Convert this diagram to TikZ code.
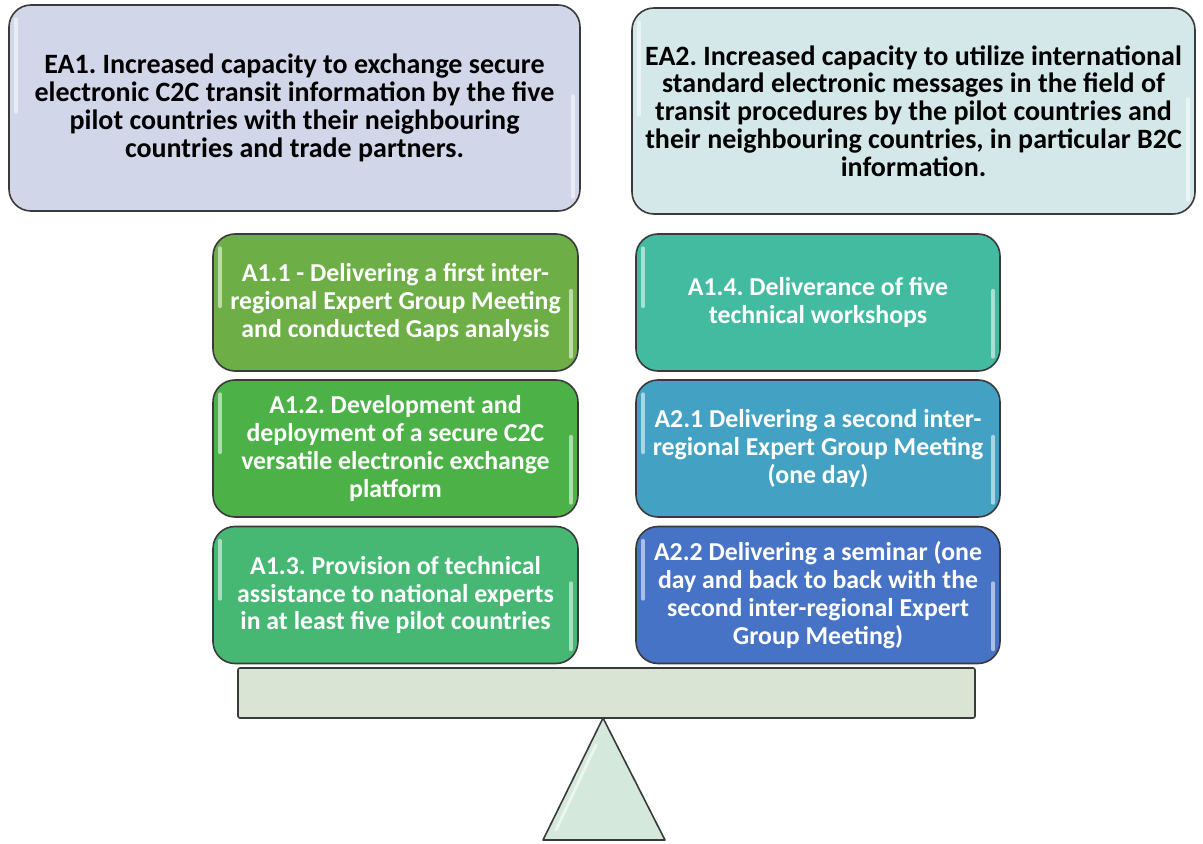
\documentclass[tikz,border=0pt]{standalone}
\usepackage{fontspec}
\setmainfont{Carlito}
\frenchspacing
\definecolor{eaone}{HTML}{D1D6E9}
\definecolor{eatwo}{HTML}{D4E8EA}
\definecolor{aoneone}{HTML}{6EAE46}
\definecolor{aonetwo}{HTML}{4CB248}
\definecolor{aonethree}{HTML}{46B874}
\definecolor{aonefour}{HTML}{43BBA0}
\definecolor{atwoone}{HTML}{43A2C3}
\definecolor{atwotwo}{HTML}{4673C6}
\definecolor{barcol}{HTML}{D9E4D4}
\definecolor{tricol}{HTML}{D4E8DB}
\definecolor{edge}{HTML}{3A3A3A}
\begin{document}
\begin{tikzpicture}[x=0.5pt,y=-0.5pt,
  gloss/.style={path picture={
    \draw[white,opacity=.55,line width=1.6pt,line cap=round]
      ([xshift=3.5pt,yshift=-7pt]path picture bounding box.north west) -- ([xshift=3.5pt,yshift=-2pt]path picture bounding box.west);
    \draw[white,opacity=.55,line width=1.6pt,line cap=round]
      ([xshift=-3.5pt,yshift=6pt]path picture bounding box.east) -- ([xshift=-3.5pt,yshift=7pt]path picture bounding box.south east);}},
  box/.style={draw=edge,line width=0.8pt,rounded corners=11pt,align=center,
    inner sep=0pt,gloss},
  eabox/.style={box,text=black,minimum height=103pt,font=\fontsize{14}{13.9}\selectfont\bfseries},
  actbox/.style={box,text=white,minimum height=68.5pt,font=\fontsize{12.9}{13.9}\selectfont\bfseries},
  actl/.style={actbox,minimum width=182.5pt},
  actr/.style={actbox,minimum width=182pt}]
\useasboundingbox (0,0) rectangle (1203,844);
\node[eabox,fill=eaone,minimum width=285.5pt] (ea1) at (294.5,108)
  {EA1. Increased capacity to exchange secure\\electronic C2C transit information by the five\\pilot countries with their neighbouring\\countries and trade partners.};
\node[eabox,fill=eatwo,minimum width=281.5pt] (ea2) at (913.5,111)
  {EA2. Increased capacity to utilize international\\standard electronic messages in the field of\\transit procedures by the pilot countries and\\their neighbouring countries, in particular B2C\\information.};
\node[actl,fill=aoneone] (a11) at (395.5,302.5)
  {A1.1 - Delivering a first inter-\\regional Expert Group Meeting\\and conducted Gaps analysis};
\node[actl,fill=aonetwo] (a12) at (395.5,448.5)
  {A1.2. Development and\\deployment of a secure C2C\\versatile electronic exchange\\platform};
\node[actl,fill=aonethree] (a13) at (395.5,595)
  {A1.3. Provision of technical\\assistance to national experts\\in at least five pilot countries};
\node[actr,fill=aonefour] (a14) at (818,302.5)
  {A1.4. Deliverance of five\\technical workshops};
\node[actr,fill=atwoone] (a21) at (818,448.5)
  {A2.1 Delivering a second inter-\\regional Expert Group Meeting\\(one day)};
\node[actr,fill=atwotwo] (a22) at (818,595)
  {A2.2 Delivering a seminar (one\\day and back to back with the\\second inter-regional Expert\\Group Meeting)};
\node[draw=edge,line width=0.8pt,fill=barcol,rounded corners=1pt,minimum width=368.5pt,minimum height=25pt,inner sep=0pt] (bar) at (606.5,693) {};
\coordinate (apex) at (603,718);
\coordinate (bl) at (543,840);
\coordinate (br) at (665,840);
\draw[draw=edge,line width=0.8pt,fill=tricol,line join=round] (apex) -- (br) -- (bl) -- cycle;
\draw[white,opacity=.6,line width=1.4pt,line cap=round] (596,745) -- (556,830);
\end{tikzpicture}
\end{document}
